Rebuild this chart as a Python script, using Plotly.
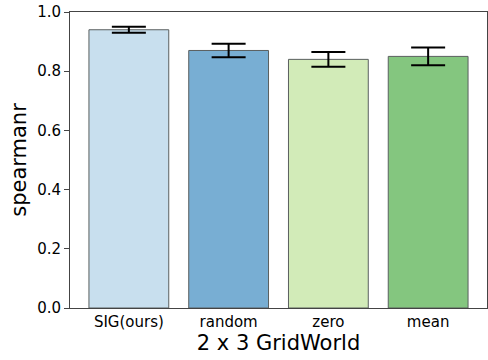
import plotly.graph_objects as go

methods = ["SIG(ours)", "random", "zero", "mean"]
spearman_mean = [0.940, 0.870, 0.840, 0.850]
spearman_err = [0.010, 0.023, 0.025, 0.030]
bar_colors = ["#c8dfee", "#78aed3", "#d2ebb8", "#84c67f"]

font_family = "DejaVu Sans"

fig = go.Figure()
fig.add_trace(go.Bar(
    x=list(range(len(methods))),
    y=spearman_mean,
    width=0.8,
    marker=dict(color=bar_colors, line=dict(color="#5a5f5f", width=1)),
    error_y=dict(type="data", array=spearman_err, visible=True,
                 color="black", thickness=2, width=17),
))

fig.update_layout(
    width=488, height=360,
    margin=dict(l=70, r=1, t=12, b=52),
    paper_bgcolor="white", plot_bgcolor="white",
    showlegend=False,
    font=dict(family=font_family, color="black"),
    xaxis=dict(
        range=[-0.59, 3.59],
        tickmode="array", tickvals=list(range(len(methods))), ticktext=methods,
        tickfont=dict(size=15), ticks="outside", ticklen=0,
        showline=True, linecolor="#444", linewidth=1, mirror=True,
        showgrid=False, zeroline=False,
        title=dict(text="2 x 3 GridWorld", font=dict(size=21), standoff=1),
    ),
    yaxis=dict(
        range=[0, 1.0],
        tickmode="array", tickvals=[0, 0.2, 0.4, 0.6, 0.8, 1.0],
        ticktext=["0.0", "0.2", "0.4", "0.6", "0.8", "1.0"],
        tickfont=dict(size=15), ticks="outside", ticklen=5, tickcolor="#444",
        showline=True, linecolor="#444", linewidth=1, mirror=True,
        showgrid=False, zeroline=False,
        title=dict(text="spearmanr", font=dict(size=21), standoff=4),
    ),
)

fig.write_html("out.html")
